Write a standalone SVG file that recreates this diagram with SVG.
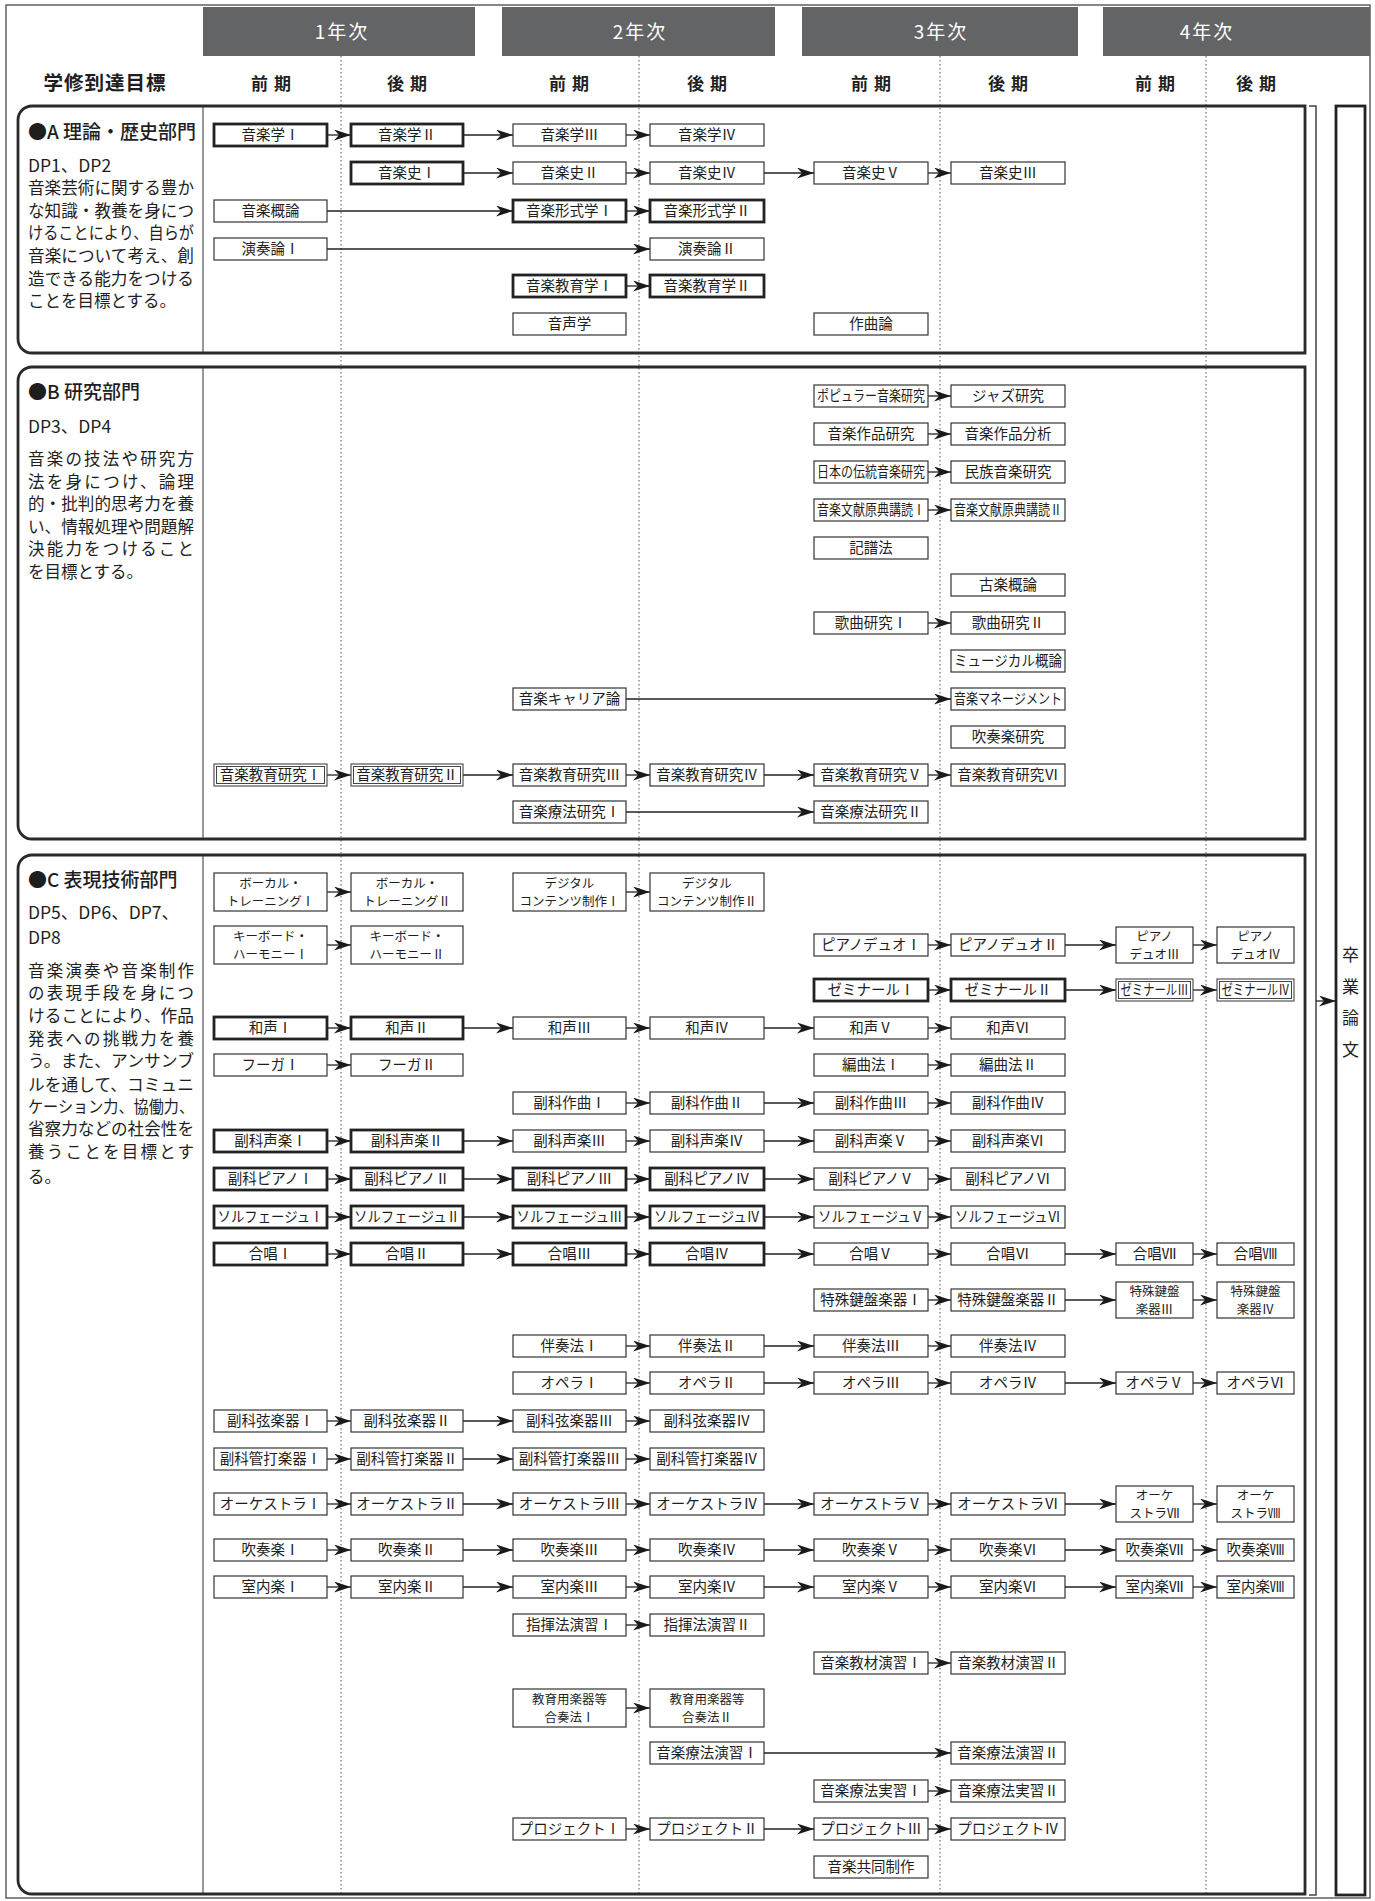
<svg xmlns="http://www.w3.org/2000/svg" width="1375" height="1901" viewBox="0 0 1375 1901">
<defs>
<marker id="ah" markerUnits="userSpaceOnUse" markerWidth="17" markerHeight="11" refX="17" refY="5.5" orient="auto" viewBox="0 0 17 11">
<path d="M0,0 L17,5.5 L0,11 L5,5.5 Z" fill="#1a1a1a"/>
</marker>
<style>
text{font-family:'Noto Sans CJK JP','Noto Sans',sans-serif;fill:#1e1e1e}
.c{font-size:14.5px;text-anchor:middle}
.c2{font-size:12.5px;text-anchor:middle}
.bx{fill:#fff;stroke:#333;stroke-width:1.2}
.bt{fill:#fff;stroke:#222;stroke-width:2.8}
.bd{fill:#fff;stroke:#444;stroke-width:1.1}
.bdi{fill:none;stroke:#444;stroke-width:1}
.ar{fill:none;stroke:#222;stroke-width:1.3;marker-end:url(#ah)}
.sec{fill:none;stroke:#2a2a2a;stroke-width:2.8}
.dv{stroke:#333;stroke-width:1}
.dash{stroke:#555;stroke-width:1;stroke-dasharray:1.5 2.5}
.yr{font-size:19px;fill:#fff;text-anchor:middle;letter-spacing:2px}
.ph{font-size:17px;font-weight:700;text-anchor:middle;letter-spacing:6px}
.hd{font-size:19px;font-weight:500}
.dp{font-size:17.5px}
.ds{font-size:16.5px}
</style>
</defs>
<rect x="0" y="0" width="1375" height="1901" fill="#fff"/>
<rect x="6" y="5" width="1364" height="1893" fill="none" stroke="#555" stroke-width="1.4"/>

<g id="header">
<rect x="203" y="7" width="272" height="49" fill="#636466"/>
<rect x="502" y="7" width="273" height="49" fill="#636466"/>
<rect x="802" y="7" width="276" height="49" fill="#636466"/>
<rect x="1103" y="7" width="267" height="49" fill="#636466"/>
<text class="yr" x="342" y="39">1年次</text>
<text class="yr" x="640" y="39">2年次</text>
<text class="yr" x="941" y="39">3年次</text>
<text class="yr" x="1207" y="39">4年次</text>
<text x="105" y="90" font-size="19.5" font-weight="700" text-anchor="middle" letter-spacing="1">学修到達目標</text>
<text class="ph" x="274" y="90">前期</text>
<text class="ph" x="410" y="90">後期</text>
<text class="ph" x="572" y="90">前期</text>
<text class="ph" x="710" y="90">後期</text>
<text class="ph" x="874" y="90">前期</text>
<text class="ph" x="1011" y="90">後期</text>
<text class="ph" x="1158" y="90">前期</text>
<text class="ph" x="1259" y="90">後期</text>
</g>

<g id="gridlines">
<line class="dash" x1="341" y1="56" x2="341" y2="1896"/>
<line class="dash" x1="639" y1="56" x2="639" y2="1896"/>
<line class="dash" x1="940" y1="56" x2="940" y2="1896"/>
<line class="dash" x1="1206" y1="56" x2="1206" y2="1896"/>
</g>

<g id="sectionA">
<path class="sec" d="M32,106 H1305 V353 H32 A14,14 0 0 1 18,339 V120 A14,14 0 0 1 32,106 Z"/>
<line class="dv" x1="203" y1="106" x2="203" y2="353"/>
<text class="hd" x="28" y="139">●A 理論・歴史部門</text>
<text class="dp" x="28" y="172">DP1、DP2</text>
<text class="ds" x="28" y="194" textLength="166" lengthAdjust="spacingAndGlyphs">音楽芸術に関する豊か</text>
<text class="ds" x="28" y="217" textLength="166" lengthAdjust="spacingAndGlyphs">な知識・教養を身につ</text>
<text class="ds" x="28" y="239" textLength="166" lengthAdjust="spacingAndGlyphs">けることにより、自らが</text>
<text class="ds" x="28" y="262" textLength="166" lengthAdjust="spacingAndGlyphs">音楽について考え、創</text>
<text class="ds" x="28" y="285" textLength="166" lengthAdjust="spacingAndGlyphs">造できる能力をつける</text>
<text class="ds" x="28" y="307">ことを目標とする。</text>
</g>

<g id="sectionB">
<path class="sec" d="M32,367 H1305 V839 H32 A14,14 0 0 1 18,825 V381 A14,14 0 0 1 32,367 Z"/>
<line class="dv" x1="203" y1="367" x2="203" y2="839"/>
<text class="hd" x="28" y="399">●B 研究部門</text>
<text class="dp" x="28" y="433">DP3、DP4</text>
<text class="ds" x="28" y="465" textLength="166" lengthAdjust="spacing">音楽の技法や研究方</text>
<text class="ds" x="28" y="488" textLength="166" lengthAdjust="spacing">法を身につけ、論理</text>
<text class="ds" x="28" y="510" textLength="166" lengthAdjust="spacingAndGlyphs">的・批判的思考力を養</text>
<text class="ds" x="28" y="533" textLength="166" lengthAdjust="spacingAndGlyphs">い、情報処理や問題解</text>
<text class="ds" x="28" y="555" textLength="166" lengthAdjust="spacing">決能力をつけること</text>
<text class="ds" x="28" y="578">を目標とする。</text>
</g>

<g id="sectionC">
<path class="sec" d="M32,855 H1305 V1894 H32 A14,14 0 0 1 18,1880 V869 A14,14 0 0 1 32,855 Z"/>
<line class="dv" x1="203" y1="855" x2="203" y2="1894"/>
<text class="hd" x="28" y="887">●C 表現技術部門</text>
<text class="dp" x="28" y="919">DP5、DP6、DP7、</text>
<text class="dp" x="28" y="944">DP8</text>
<text class="ds" x="28" y="977" textLength="166" lengthAdjust="spacing">音楽演奏や音楽制作</text>
<text class="ds" x="28" y="999" textLength="166" lengthAdjust="spacing">の表現手段を身につ</text>
<text class="ds" x="28" y="1022" textLength="166" lengthAdjust="spacingAndGlyphs">けることにより、作品</text>
<text class="ds" x="28" y="1045" textLength="166" lengthAdjust="spacing">発表への挑戦力を養</text>
<text class="ds" x="28" y="1067" textLength="166" lengthAdjust="spacingAndGlyphs">う。また、アンサンブ</text>
<text class="ds" x="28" y="1091" textLength="166" lengthAdjust="spacingAndGlyphs">ルを通して、コミュニ</text>
<text class="ds" x="28" y="1113" textLength="166" lengthAdjust="spacingAndGlyphs">ケーション力、協働力、</text>
<text class="ds" x="28" y="1135" textLength="166" lengthAdjust="spacingAndGlyphs">省察力などの社会性を</text>
<text class="ds" x="28" y="1158" textLength="166" lengthAdjust="spacing">養うことを目標とす</text>
<text class="ds" x="28" y="1183">る。</text>
</g>

<g id="thesis">
<path d="M1309,106 H1316 V1895 H1309" fill="none" stroke="#444" stroke-width="1.5"/>
<rect x="1336" y="106" width="29" height="1789" fill="#fff" stroke="#222" stroke-width="2.8"/>
<text x="1350.5" y="961" font-size="17" text-anchor="middle">卒</text>
<text x="1350.5" y="993" font-size="17" text-anchor="middle">業</text>
<text x="1350.5" y="1024" font-size="17" text-anchor="middle">論</text>
<text x="1350.5" y="1056" font-size="17" text-anchor="middle">文</text>
</g>

<g id="connectors">
<path class="ar" d="M327,135 H351"/><path class="ar" d="M463,135 H513"/><path class="ar" d="M626,135 H650"/>
<path class="ar" d="M463,173 H513"/><path class="ar" d="M626,173 H650"/><path class="ar" d="M764,173 H814"/><path class="ar" d="M928,173 H951"/>
<path class="ar" d="M327,211 H513"/><path class="ar" d="M626,211 H650"/>
<path class="ar" d="M327,249 H650"/>
<path class="ar" d="M626,286 H650"/>
<path class="ar" d="M928,396 H951"/><path class="ar" d="M928,434 H951"/><path class="ar" d="M928,472 H951"/><path class="ar" d="M928,510 H951"/>
<path class="ar" d="M928,623 H951"/>
<path class="ar" d="M626,699 H951"/>
<path class="ar" d="M327,775 H351"/><path class="ar" d="M463,775 H513"/><path class="ar" d="M626,775 H650"/><path class="ar" d="M764,775 H814"/><path class="ar" d="M928,775 H951"/>
<path class="ar" d="M626,812 H814"/>
<path class="ar" d="M327,892 H351"/><path class="ar" d="M626,892 H650"/>
<path class="ar" d="M327,945 H351"/><path class="ar" d="M928,945 H951"/><path class="ar" d="M1065,945 H1116"/><path class="ar" d="M1193,945 H1217"/>
<path class="ar" d="M928,990 H951"/><path class="ar" d="M1065,990 H1116"/><path class="ar" d="M1193,990 H1217"/>
<path class="ar" d="M327,1028 H351"/><path class="ar" d="M463,1028 H513"/><path class="ar" d="M626,1028 H650"/><path class="ar" d="M764,1028 H814"/><path class="ar" d="M928,1028 H951"/>
<path class="ar" d="M327,1065 H351"/><path class="ar" d="M928,1065 H951"/>
<path class="ar" d="M626,1103 H650"/><path class="ar" d="M764,1103 H814"/><path class="ar" d="M928,1103 H951"/>
<path class="ar" d="M327,1141 H351"/><path class="ar" d="M463,1141 H513"/><path class="ar" d="M626,1141 H650"/><path class="ar" d="M764,1141 H814"/><path class="ar" d="M928,1141 H951"/>
<path class="ar" d="M327,1179 H351"/><path class="ar" d="M463,1179 H513"/><path class="ar" d="M626,1179 H650"/><path class="ar" d="M764,1179 H814"/><path class="ar" d="M928,1179 H951"/>
<path class="ar" d="M327,1217 H351"/><path class="ar" d="M463,1217 H513"/><path class="ar" d="M626,1217 H650"/><path class="ar" d="M764,1217 H814"/><path class="ar" d="M928,1217 H951"/>
<path class="ar" d="M327,1254 H351"/><path class="ar" d="M463,1254 H513"/><path class="ar" d="M626,1254 H650"/><path class="ar" d="M764,1254 H814"/><path class="ar" d="M928,1254 H951"/><path class="ar" d="M1065,1254 H1116"/><path class="ar" d="M1193,1254 H1217"/>
<path class="ar" d="M928,1300 H951"/><path class="ar" d="M1065,1300 H1116"/><path class="ar" d="M1193,1300 H1217"/>
<path class="ar" d="M626,1346 H650"/><path class="ar" d="M764,1346 H814"/><path class="ar" d="M928,1346 H951"/>
<path class="ar" d="M626,1383 H650"/><path class="ar" d="M764,1383 H814"/><path class="ar" d="M928,1383 H951"/><path class="ar" d="M1065,1383 H1116"/><path class="ar" d="M1193,1383 H1217"/>
<path class="ar" d="M327,1421 H351"/><path class="ar" d="M463,1421 H513"/><path class="ar" d="M626,1421 H650"/>
<path class="ar" d="M327,1459 H351"/><path class="ar" d="M463,1459 H513"/><path class="ar" d="M626,1459 H650"/>
<path class="ar" d="M327,1504 H351"/><path class="ar" d="M463,1504 H513"/><path class="ar" d="M626,1504 H650"/><path class="ar" d="M764,1504 H814"/><path class="ar" d="M928,1504 H951"/><path class="ar" d="M1065,1504 H1116"/><path class="ar" d="M1193,1504 H1217"/>
<path class="ar" d="M327,1550 H351"/><path class="ar" d="M463,1550 H513"/><path class="ar" d="M626,1550 H650"/><path class="ar" d="M764,1550 H814"/><path class="ar" d="M928,1550 H951"/><path class="ar" d="M1065,1550 H1116"/><path class="ar" d="M1193,1550 H1217"/>
<path class="ar" d="M327,1587 H351"/><path class="ar" d="M463,1587 H513"/><path class="ar" d="M626,1587 H650"/><path class="ar" d="M764,1587 H814"/><path class="ar" d="M928,1587 H951"/><path class="ar" d="M1065,1587 H1116"/><path class="ar" d="M1193,1587 H1217"/>
<path class="ar" d="M626,1625 H650"/>
<path class="ar" d="M928,1663 H951"/>
<path class="ar" d="M626,1708 H650"/>
<path class="ar" d="M764,1753 H951"/>
<path class="ar" d="M928,1791 H951"/>
<path class="ar" d="M626,1829 H650"/><path class="ar" d="M764,1829 H814"/><path class="ar" d="M928,1829 H951"/>
<path class="ar" d="M1316,1001 H1336"/>
</g>

<g id="a1"><rect class="bt" x="214" y="124" width="113" height="22"/><text class="c" x="270.5" y="140">音楽学Ⅰ</text></g>
<g id="a2"><rect class="bt" x="351" y="124" width="112" height="22"/><text class="c" x="407" y="140">音楽学Ⅱ</text></g>
<g id="a3"><rect class="bx" x="513" y="124" width="113" height="22"/><text class="c" x="569.5" y="140">音楽学Ⅲ</text></g>
<g id="a4"><rect class="bx" x="650" y="124" width="114" height="22"/><text class="c" x="707" y="140">音楽学Ⅳ</text></g>
<g id="a5"><rect class="bt" x="351" y="162" width="112" height="22"/><text class="c" x="407" y="178">音楽史Ⅰ</text></g>
<g id="a6"><rect class="bx" x="513" y="162" width="113" height="22"/><text class="c" x="569.5" y="178">音楽史Ⅱ</text></g>
<g id="a7"><rect class="bx" x="650" y="162" width="114" height="22"/><text class="c" x="707" y="178">音楽史Ⅳ</text></g>
<g id="a8"><rect class="bx" x="814" y="162" width="114" height="22"/><text class="c" x="871" y="178">音楽史Ⅴ</text></g>
<g id="a9"><rect class="bx" x="951" y="162" width="114" height="22"/><text class="c" x="1008" y="178">音楽史Ⅲ</text></g>
<g id="a10"><rect class="bx" x="214" y="200" width="113" height="22"/><text class="c" x="270.5" y="216">音楽概論</text></g>
<g id="a11"><rect class="bt" x="513" y="200" width="113" height="22"/><text class="c" x="569.5" y="216">音楽形式学Ⅰ</text></g>
<g id="a12"><rect class="bt" x="650" y="200" width="114" height="22"/><text class="c" x="707" y="216">音楽形式学Ⅱ</text></g>
<g id="a13"><rect class="bx" x="214" y="238" width="113" height="22"/><text class="c" x="270.5" y="254">演奏論Ⅰ</text></g>
<g id="a14"><rect class="bx" x="650" y="238" width="114" height="22"/><text class="c" x="707" y="254">演奏論Ⅱ</text></g>
<g id="a15"><rect class="bt" x="513" y="275" width="113" height="22"/><text class="c" x="569.5" y="291">音楽教育学Ⅰ</text></g>
<g id="a16"><rect class="bt" x="650" y="275" width="114" height="22"/><text class="c" x="707" y="291">音楽教育学Ⅱ</text></g>
<g id="a17"><rect class="bx" x="513" y="313" width="113" height="22"/><text class="c" x="569.5" y="329">音声学</text></g>
<g id="a18"><rect class="bx" x="814" y="313" width="114" height="22"/><text class="c" x="871" y="329">作曲論</text></g>

<g id="b1"><rect class="bx" x="814" y="385" width="114" height="22"/><text class="c" x="871" y="401" textLength="108" lengthAdjust="spacingAndGlyphs">ポピュラー音楽研究</text></g>
<g id="b2"><rect class="bx" x="951" y="385" width="114" height="22"/><text class="c" x="1008" y="401">ジャズ研究</text></g>
<g id="b3"><rect class="bx" x="814" y="423" width="114" height="22"/><text class="c" x="871" y="439">音楽作品研究</text></g>
<g id="b4"><rect class="bx" x="951" y="423" width="114" height="22"/><text class="c" x="1008" y="439">音楽作品分析</text></g>
<g id="b5"><rect class="bx" x="814" y="461" width="114" height="22"/><text class="c" x="871" y="477" textLength="108" lengthAdjust="spacingAndGlyphs">日本の伝統音楽研究</text></g>
<g id="b6"><rect class="bx" x="951" y="461" width="114" height="22"/><text class="c" x="1008" y="477">民族音楽研究</text></g>
<g id="b7"><rect class="bx" x="814" y="499" width="114" height="22"/><text class="c" x="871" y="515" textLength="108" lengthAdjust="spacingAndGlyphs">音楽文献原典講読Ⅰ</text></g>
<g id="b8"><rect class="bx" x="951" y="499" width="114" height="22"/><text class="c" x="1008" y="515" textLength="108" lengthAdjust="spacingAndGlyphs">音楽文献原典講読Ⅱ</text></g>
<g id="b9"><rect class="bx" x="814" y="537" width="114" height="22"/><text class="c" x="871" y="553">記譜法</text></g>
<g id="b10"><rect class="bx" x="951" y="574" width="114" height="22"/><text class="c" x="1008" y="590">古楽概論</text></g>
<g id="b11"><rect class="bx" x="814" y="612" width="114" height="22"/><text class="c" x="871" y="628">歌曲研究Ⅰ</text></g>
<g id="b12"><rect class="bx" x="951" y="612" width="114" height="22"/><text class="c" x="1008" y="628">歌曲研究Ⅱ</text></g>
<g id="b13"><rect class="bx" x="951" y="650" width="114" height="22"/><text class="c" x="1008" y="666" textLength="108" lengthAdjust="spacingAndGlyphs">ミュージカル概論</text></g>
<g id="b14"><rect class="bx" x="513" y="688" width="113" height="22"/><text class="c" x="569.5" y="704">音楽キャリア論</text></g>
<g id="b15"><rect class="bx" x="951" y="688" width="114" height="22"/><text class="c" x="1008" y="704" textLength="108" lengthAdjust="spacingAndGlyphs">音楽マネージメント</text></g>
<g id="b16"><rect class="bx" x="951" y="726" width="114" height="22"/><text class="c" x="1008" y="742">吹奏楽研究</text></g>
<g id="b17"><rect class="bd" x="214" y="764" width="113" height="22"/><rect class="bdi" x="216.5" y="766.5" width="108" height="17"/><text class="c" x="270.5" y="780">音楽教育研究Ⅰ</text></g>
<g id="b18"><rect class="bd" x="351" y="764" width="112" height="22"/><rect class="bdi" x="353.5" y="766.5" width="107" height="17"/><text class="c" x="407" y="780">音楽教育研究Ⅱ</text></g>
<g id="b19"><rect class="bx" x="513" y="764" width="113" height="22"/><text class="c" x="569.5" y="780">音楽教育研究Ⅲ</text></g>
<g id="b20"><rect class="bx" x="650" y="764" width="114" height="22"/><text class="c" x="707" y="780">音楽教育研究Ⅳ</text></g>
<g id="b21"><rect class="bx" x="814" y="764" width="114" height="22"/><text class="c" x="871" y="780">音楽教育研究Ⅴ</text></g>
<g id="b22"><rect class="bx" x="951" y="764" width="114" height="22"/><text class="c" x="1008" y="780">音楽教育研究Ⅵ</text></g>
<g id="b23"><rect class="bx" x="513" y="801" width="113" height="22"/><text class="c" x="569.5" y="817">音楽療法研究Ⅰ</text></g>
<g id="b24"><rect class="bx" x="814" y="801" width="114" height="22"/><text class="c" x="871" y="817">音楽療法研究Ⅱ</text></g>

<g id="c1"><rect class="bx" x="214" y="873" width="113" height="38"/><text class="c2" x="270.5" y="887.5">ボーカル・<tspan x="270.5" dy="18.2">トレーニングⅠ</tspan></text></g>
<g id="c2"><rect class="bx" x="351" y="873" width="112" height="38"/><text class="c2" x="407" y="887.5">ボーカル・<tspan x="407" dy="18.2">トレーニングⅡ</tspan></text></g>
<g id="c3"><rect class="bx" x="513" y="873" width="113" height="38"/><text class="c2" x="569.5" y="887.5">デジタル<tspan x="569.5" dy="18.2">コンテンツ制作Ⅰ</tspan></text></g>
<g id="c4"><rect class="bx" x="650" y="873" width="114" height="38"/><text class="c2" x="707" y="887.5">デジタル<tspan x="707" dy="18.2">コンテンツ制作Ⅱ</tspan></text></g>
<g id="c5"><rect class="bx" x="214" y="926" width="113" height="38"/><text class="c2" x="270.5" y="940.5">キーボード・<tspan x="270.5" dy="18.2">ハーモニーⅠ</tspan></text></g>
<g id="c6"><rect class="bx" x="351" y="926" width="112" height="38"/><text class="c2" x="407" y="940.5">キーボード・<tspan x="407" dy="18.2">ハーモニーⅡ</tspan></text></g>
<g id="c7"><rect class="bx" x="814" y="934" width="114" height="22"/><text class="c" x="871" y="950">ピアノデュオⅠ</text></g>
<g id="c8"><rect class="bx" x="951" y="934" width="114" height="22"/><text class="c" x="1008" y="950">ピアノデュオⅡ</text></g>
<g id="c9"><rect class="bx" x="1116" y="927" width="77" height="36"/><text class="c2" x="1154.5" y="940.5">ピアノ<tspan x="1154.5" dy="18.2">デュオⅢ</tspan></text></g>
<g id="c10"><rect class="bx" x="1217" y="927" width="77" height="36"/><text class="c2" x="1255.5" y="940.5">ピアノ<tspan x="1255.5" dy="18.2">デュオⅣ</tspan></text></g>
<g id="c11"><rect class="bt" x="814" y="979" width="114" height="22"/><text class="c" x="871" y="995">ゼミナールⅠ</text></g>
<g id="c12"><rect class="bt" x="951" y="979" width="114" height="22"/><text class="c" x="1008" y="995">ゼミナールⅡ</text></g>
<g id="c13"><rect class="bd" x="1116" y="979" width="77" height="22"/><rect class="bdi" x="1118.5" y="981.5" width="72" height="17"/><text class="c" x="1154.5" y="995" textLength="68" lengthAdjust="spacingAndGlyphs">ゼミナールⅢ</text></g>
<g id="c14"><rect class="bd" x="1217" y="979" width="77" height="22"/><rect class="bdi" x="1219.5" y="981.5" width="72" height="17"/><text class="c" x="1255.5" y="995" textLength="68" lengthAdjust="spacingAndGlyphs">ゼミナールⅣ</text></g>

<g id="c15"><rect class="bt" x="214" y="1017" width="113" height="22"/><text class="c" x="270.5" y="1033">和声Ⅰ</text></g>
<g id="c16"><rect class="bt" x="351" y="1017" width="112" height="22"/><text class="c" x="407" y="1033">和声Ⅱ</text></g>
<g id="c17"><rect class="bx" x="513" y="1017" width="113" height="22"/><text class="c" x="569.5" y="1033">和声Ⅲ</text></g>
<g id="c18"><rect class="bx" x="650" y="1017" width="114" height="22"/><text class="c" x="707" y="1033">和声Ⅳ</text></g>
<g id="c19"><rect class="bx" x="814" y="1017" width="114" height="22"/><text class="c" x="871" y="1033">和声Ⅴ</text></g>
<g id="c20"><rect class="bx" x="951" y="1017" width="114" height="22"/><text class="c" x="1008" y="1033">和声Ⅵ</text></g>
<g id="c21"><rect class="bx" x="214" y="1054" width="113" height="22"/><text class="c" x="270.5" y="1070">フーガⅠ</text></g>
<g id="c22"><rect class="bx" x="351" y="1054" width="112" height="22"/><text class="c" x="407" y="1070">フーガⅡ</text></g>
<g id="c23"><rect class="bx" x="814" y="1054" width="114" height="22"/><text class="c" x="871" y="1070">編曲法Ⅰ</text></g>
<g id="c24"><rect class="bx" x="951" y="1054" width="114" height="22"/><text class="c" x="1008" y="1070">編曲法Ⅱ</text></g>
<g id="c25"><rect class="bx" x="513" y="1092" width="113" height="22"/><text class="c" x="569.5" y="1108">副科作曲Ⅰ</text></g>
<g id="c26"><rect class="bx" x="650" y="1092" width="114" height="22"/><text class="c" x="707" y="1108">副科作曲Ⅱ</text></g>
<g id="c27"><rect class="bx" x="814" y="1092" width="114" height="22"/><text class="c" x="871" y="1108">副科作曲Ⅲ</text></g>
<g id="c28"><rect class="bx" x="951" y="1092" width="114" height="22"/><text class="c" x="1008" y="1108">副科作曲Ⅳ</text></g>
<g id="c29"><rect class="bt" x="214" y="1130" width="113" height="22"/><text class="c" x="270.5" y="1146">副科声楽Ⅰ</text></g>
<g id="c30"><rect class="bt" x="351" y="1130" width="112" height="22"/><text class="c" x="407" y="1146">副科声楽Ⅱ</text></g>
<g id="c31"><rect class="bx" x="513" y="1130" width="113" height="22"/><text class="c" x="569.5" y="1146">副科声楽Ⅲ</text></g>
<g id="c32"><rect class="bx" x="650" y="1130" width="114" height="22"/><text class="c" x="707" y="1146">副科声楽Ⅳ</text></g>
<g id="c33"><rect class="bx" x="814" y="1130" width="114" height="22"/><text class="c" x="871" y="1146">副科声楽Ⅴ</text></g>
<g id="c34"><rect class="bx" x="951" y="1130" width="114" height="22"/><text class="c" x="1008" y="1146">副科声楽Ⅵ</text></g>
<g id="c35"><rect class="bt" x="214" y="1168" width="113" height="22"/><text class="c" x="270.5" y="1184">副科ピアノⅠ</text></g>
<g id="c36"><rect class="bt" x="351" y="1168" width="112" height="22"/><text class="c" x="407" y="1184">副科ピアノⅡ</text></g>
<g id="c37"><rect class="bt" x="513" y="1168" width="113" height="22"/><text class="c" x="569.5" y="1184">副科ピアノⅢ</text></g>
<g id="c38"><rect class="bt" x="650" y="1168" width="114" height="22"/><text class="c" x="707" y="1184">副科ピアノⅣ</text></g>
<g id="c39"><rect class="bx" x="814" y="1168" width="114" height="22"/><text class="c" x="871" y="1184">副科ピアノⅤ</text></g>
<g id="c40"><rect class="bx" x="951" y="1168" width="114" height="22"/><text class="c" x="1008" y="1184">副科ピアノⅥ</text></g>
<g id="c41"><rect class="bt" x="214" y="1206" width="113" height="22"/><text class="c" x="270.5" y="1222" textLength="106" lengthAdjust="spacingAndGlyphs">ソルフェージュⅠ</text></g>
<g id="c42"><rect class="bt" x="351" y="1206" width="112" height="22"/><text class="c" x="407" y="1222" textLength="106" lengthAdjust="spacingAndGlyphs">ソルフェージュⅡ</text></g>
<g id="c43"><rect class="bt" x="513" y="1206" width="113" height="22"/><text class="c" x="569.5" y="1222" textLength="106" lengthAdjust="spacingAndGlyphs">ソルフェージュⅢ</text></g>
<g id="c44"><rect class="bt" x="650" y="1206" width="114" height="22"/><text class="c" x="707" y="1222" textLength="106" lengthAdjust="spacingAndGlyphs">ソルフェージュⅣ</text></g>
<g id="c45"><rect class="bx" x="814" y="1206" width="114" height="22"/><text class="c" x="871" y="1222" textLength="106" lengthAdjust="spacingAndGlyphs">ソルフェージュⅤ</text></g>
<g id="c46"><rect class="bx" x="951" y="1206" width="114" height="22"/><text class="c" x="1008" y="1222" textLength="106" lengthAdjust="spacingAndGlyphs">ソルフェージュⅥ</text></g>
<g id="c47"><rect class="bt" x="214" y="1243" width="113" height="22"/><text class="c" x="270.5" y="1259">合唱Ⅰ</text></g>
<g id="c48"><rect class="bt" x="351" y="1243" width="112" height="22"/><text class="c" x="407" y="1259">合唱Ⅱ</text></g>
<g id="c49"><rect class="bt" x="513" y="1243" width="113" height="22"/><text class="c" x="569.5" y="1259">合唱Ⅲ</text></g>
<g id="c50"><rect class="bt" x="650" y="1243" width="114" height="22"/><text class="c" x="707" y="1259">合唱Ⅳ</text></g>
<g id="c51"><rect class="bx" x="814" y="1243" width="114" height="22"/><text class="c" x="871" y="1259">合唱Ⅴ</text></g>
<g id="c52"><rect class="bx" x="951" y="1243" width="114" height="22"/><text class="c" x="1008" y="1259">合唱Ⅵ</text></g>
<g id="c53"><rect class="bx" x="1116" y="1243" width="77" height="22"/><text class="c" x="1154.5" y="1259">合唱Ⅶ</text></g>
<g id="c54"><rect class="bx" x="1217" y="1243" width="77" height="22"/><text class="c" x="1255.5" y="1259">合唱Ⅷ</text></g>
<g id="c55"><rect class="bx" x="814" y="1289" width="114" height="22"/><text class="c" x="871" y="1305">特殊鍵盤楽器Ⅰ</text></g>
<g id="c56"><rect class="bx" x="951" y="1289" width="114" height="22"/><text class="c" x="1008" y="1305">特殊鍵盤楽器Ⅱ</text></g>
<g id="c57"><rect class="bx" x="1116" y="1282" width="77" height="36"/><text class="c2" x="1154.5" y="1295.5">特殊鍵盤<tspan x="1154.5" dy="18.2">楽器Ⅲ</tspan></text></g>
<g id="c58"><rect class="bx" x="1217" y="1282" width="77" height="36"/><text class="c2" x="1255.5" y="1295.5">特殊鍵盤<tspan x="1255.5" dy="18.2">楽器Ⅳ</tspan></text></g>
<g id="c59"><rect class="bx" x="513" y="1335" width="113" height="22"/><text class="c" x="569.5" y="1351">伴奏法Ⅰ</text></g>
<g id="c60"><rect class="bx" x="650" y="1335" width="114" height="22"/><text class="c" x="707" y="1351">伴奏法Ⅱ</text></g>
<g id="c61"><rect class="bx" x="814" y="1335" width="114" height="22"/><text class="c" x="871" y="1351">伴奏法Ⅲ</text></g>
<g id="c62"><rect class="bx" x="951" y="1335" width="114" height="22"/><text class="c" x="1008" y="1351">伴奏法Ⅳ</text></g>
<g id="c63"><rect class="bx" x="513" y="1372" width="113" height="22"/><text class="c" x="569.5" y="1388">オペラⅠ</text></g>
<g id="c64"><rect class="bx" x="650" y="1372" width="114" height="22"/><text class="c" x="707" y="1388">オペラⅡ</text></g>
<g id="c65"><rect class="bx" x="814" y="1372" width="114" height="22"/><text class="c" x="871" y="1388">オペラⅢ</text></g>
<g id="c66"><rect class="bx" x="951" y="1372" width="114" height="22"/><text class="c" x="1008" y="1388">オペラⅣ</text></g>
<g id="c67"><rect class="bx" x="1116" y="1372" width="77" height="22"/><text class="c" x="1154.5" y="1388">オペラⅤ</text></g>
<g id="c68"><rect class="bx" x="1217" y="1372" width="77" height="22"/><text class="c" x="1255.5" y="1388">オペラⅥ</text></g>
<g id="c69"><rect class="bx" x="214" y="1410" width="113" height="22"/><text class="c" x="270.5" y="1426">副科弦楽器Ⅰ</text></g>
<g id="c70"><rect class="bx" x="351" y="1410" width="112" height="22"/><text class="c" x="407" y="1426">副科弦楽器Ⅱ</text></g>
<g id="c71"><rect class="bx" x="513" y="1410" width="113" height="22"/><text class="c" x="569.5" y="1426">副科弦楽器Ⅲ</text></g>
<g id="c72"><rect class="bx" x="650" y="1410" width="114" height="22"/><text class="c" x="707" y="1426">副科弦楽器Ⅳ</text></g>
<g id="c73"><rect class="bx" x="214" y="1448" width="113" height="22"/><text class="c" x="270.5" y="1464">副科管打楽器Ⅰ</text></g>
<g id="c74"><rect class="bx" x="351" y="1448" width="112" height="22"/><text class="c" x="407" y="1464">副科管打楽器Ⅱ</text></g>
<g id="c75"><rect class="bx" x="513" y="1448" width="113" height="22"/><text class="c" x="569.5" y="1464">副科管打楽器Ⅲ</text></g>
<g id="c76"><rect class="bx" x="650" y="1448" width="114" height="22"/><text class="c" x="707" y="1464">副科管打楽器Ⅳ</text></g>
<g id="c77"><rect class="bx" x="214" y="1493" width="113" height="22"/><text class="c" x="270.5" y="1509">オーケストラⅠ</text></g>
<g id="c78"><rect class="bx" x="351" y="1493" width="112" height="22"/><text class="c" x="407" y="1509">オーケストラⅡ</text></g>
<g id="c79"><rect class="bx" x="513" y="1493" width="113" height="22"/><text class="c" x="569.5" y="1509">オーケストラⅢ</text></g>
<g id="c80"><rect class="bx" x="650" y="1493" width="114" height="22"/><text class="c" x="707" y="1509">オーケストラⅣ</text></g>
<g id="c81"><rect class="bx" x="814" y="1493" width="114" height="22"/><text class="c" x="871" y="1509">オーケストラⅤ</text></g>
<g id="c82"><rect class="bx" x="951" y="1493" width="114" height="22"/><text class="c" x="1008" y="1509">オーケストラⅥ</text></g>
<g id="c83"><rect class="bx" x="1116" y="1486" width="77" height="36"/><text class="c2" x="1154.5" y="1499.5">オーケ<tspan x="1154.5" dy="18.2">ストラⅦ</tspan></text></g>
<g id="c84"><rect class="bx" x="1217" y="1486" width="77" height="36"/><text class="c2" x="1255.5" y="1499.5">オーケ<tspan x="1255.5" dy="18.2">ストラⅧ</tspan></text></g>
<g id="c85"><rect class="bx" x="214" y="1539" width="113" height="22"/><text class="c" x="270.5" y="1555">吹奏楽Ⅰ</text></g>
<g id="c86"><rect class="bx" x="351" y="1539" width="112" height="22"/><text class="c" x="407" y="1555">吹奏楽Ⅱ</text></g>
<g id="c87"><rect class="bx" x="513" y="1539" width="113" height="22"/><text class="c" x="569.5" y="1555">吹奏楽Ⅲ</text></g>
<g id="c88"><rect class="bx" x="650" y="1539" width="114" height="22"/><text class="c" x="707" y="1555">吹奏楽Ⅳ</text></g>
<g id="c89"><rect class="bx" x="814" y="1539" width="114" height="22"/><text class="c" x="871" y="1555">吹奏楽Ⅴ</text></g>
<g id="c90"><rect class="bx" x="951" y="1539" width="114" height="22"/><text class="c" x="1008" y="1555">吹奏楽Ⅵ</text></g>
<g id="c91"><rect class="bx" x="1116" y="1539" width="77" height="22"/><text class="c" x="1154.5" y="1555">吹奏楽Ⅶ</text></g>
<g id="c92"><rect class="bx" x="1217" y="1539" width="77" height="22"/><text class="c" x="1255.5" y="1555">吹奏楽Ⅷ</text></g>
<g id="c93"><rect class="bx" x="214" y="1576" width="113" height="22"/><text class="c" x="270.5" y="1592">室内楽Ⅰ</text></g>
<g id="c94"><rect class="bx" x="351" y="1576" width="112" height="22"/><text class="c" x="407" y="1592">室内楽Ⅱ</text></g>
<g id="c95"><rect class="bx" x="513" y="1576" width="113" height="22"/><text class="c" x="569.5" y="1592">室内楽Ⅲ</text></g>
<g id="c96"><rect class="bx" x="650" y="1576" width="114" height="22"/><text class="c" x="707" y="1592">室内楽Ⅳ</text></g>
<g id="c97"><rect class="bx" x="814" y="1576" width="114" height="22"/><text class="c" x="871" y="1592">室内楽Ⅴ</text></g>
<g id="c98"><rect class="bx" x="951" y="1576" width="114" height="22"/><text class="c" x="1008" y="1592">室内楽Ⅵ</text></g>
<g id="c99"><rect class="bx" x="1116" y="1576" width="77" height="22"/><text class="c" x="1154.5" y="1592">室内楽Ⅶ</text></g>
<g id="c100"><rect class="bx" x="1217" y="1576" width="77" height="22"/><text class="c" x="1255.5" y="1592">室内楽Ⅷ</text></g>
<g id="c101"><rect class="bx" x="513" y="1614" width="113" height="22"/><text class="c" x="569.5" y="1630">指揮法演習Ⅰ</text></g>
<g id="c102"><rect class="bx" x="650" y="1614" width="114" height="22"/><text class="c" x="707" y="1630">指揮法演習Ⅱ</text></g>
<g id="c103"><rect class="bx" x="814" y="1652" width="114" height="22"/><text class="c" x="871" y="1668">音楽教材演習Ⅰ</text></g>
<g id="c104"><rect class="bx" x="951" y="1652" width="114" height="22"/><text class="c" x="1008" y="1668">音楽教材演習Ⅱ</text></g>
<g id="c105"><rect class="bx" x="513" y="1689" width="113" height="38"/><text class="c2" x="569.5" y="1703.5">教育用楽器等<tspan x="569.5" dy="18.2">合奏法Ⅰ</tspan></text></g>
<g id="c106"><rect class="bx" x="650" y="1689" width="114" height="38"/><text class="c2" x="707" y="1703.5">教育用楽器等<tspan x="707" dy="18.2">合奏法Ⅱ</tspan></text></g>
<g id="c107"><rect class="bx" x="650" y="1742" width="114" height="22"/><text class="c" x="707" y="1758">音楽療法演習Ⅰ</text></g>
<g id="c108"><rect class="bx" x="951" y="1742" width="114" height="22"/><text class="c" x="1008" y="1758">音楽療法演習Ⅱ</text></g>
<g id="c109"><rect class="bx" x="814" y="1780" width="114" height="22"/><text class="c" x="871" y="1796">音楽療法実習Ⅰ</text></g>
<g id="c110"><rect class="bx" x="951" y="1780" width="114" height="22"/><text class="c" x="1008" y="1796">音楽療法実習Ⅱ</text></g>
<g id="c111"><rect class="bx" x="513" y="1818" width="113" height="22"/><text class="c" x="569.5" y="1834">プロジェクトⅠ</text></g>
<g id="c112"><rect class="bx" x="650" y="1818" width="114" height="22"/><text class="c" x="707" y="1834">プロジェクトⅡ</text></g>
<g id="c113"><rect class="bx" x="814" y="1818" width="114" height="22"/><text class="c" x="871" y="1834">プロジェクトⅢ</text></g>
<g id="c114"><rect class="bx" x="951" y="1818" width="114" height="22"/><text class="c" x="1008" y="1834">プロジェクトⅣ</text></g>
<g id="c115"><rect class="bx" x="814" y="1856" width="114" height="22"/><text class="c" x="871" y="1872">音楽共同制作</text></g>
</svg>
